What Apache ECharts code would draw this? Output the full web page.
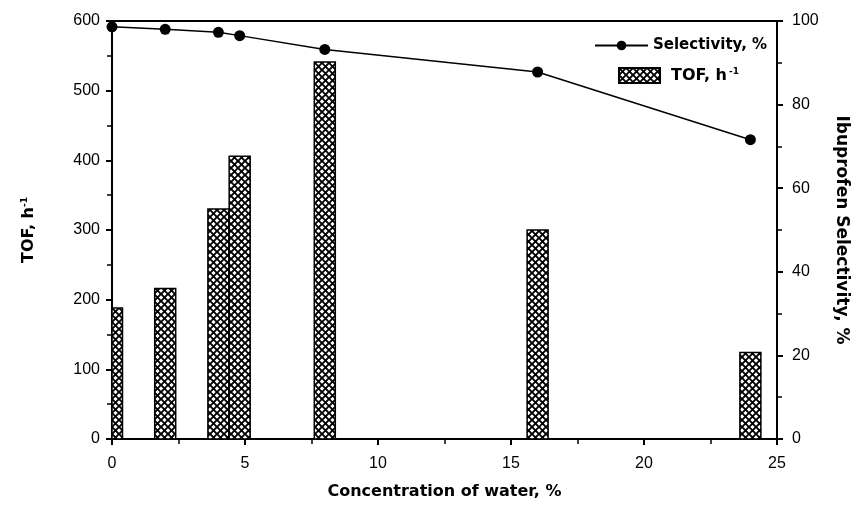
<!DOCTYPE html>
<html>
<head>
<meta charset="utf-8">
<script src="https://cdn.jsdelivr.net/npm/echarts@6/dist/echarts.min.js"></script>
<style>html,body{margin:0;padding:0;background:#fff}#c{width:864px;height:505px}</style>
</head>
<body>
<div id="c"></div>
<script>
var water = [0, 2, 4, 4.8, 8, 16, 24];
var tof = [188, 216, 330, 406, 541, 300, 124];
var selectivity = [98.6, 98.0, 97.3, 96.5, 93.2, 87.8, 71.6];
var xTicks = [0, 5, 10, 15, 20, 25];

var pc = document.createElement('canvas');
pc.width = 7; pc.height = 7;
var g = pc.getContext('2d');
g.fillStyle = '#fff'; g.fillRect(0, 0, 7, 7);
g.strokeStyle = '#000'; g.lineWidth = 1.9;
g.beginPath();
g.moveTo(-1, -1); g.lineTo(8, 8);
g.moveTo(8, -1); g.lineTo(-1, 8);
g.stroke();
var hatch = {image: pc, repeat: 'repeat'};

var FONT = 'DejaVu Sans';
var TICKFONT = 'Liberation Sans';

var chart = echarts.init(document.getElementById('c'), null, {renderer: 'canvas'});
chart.setOption({
  animation: false,
  backgroundColor: '#fff',
  grid: {left: 112, right: 87, top: 21, bottom: 63, show: true, borderColor: '#000', borderWidth: 2, backgroundColor: 'transparent'},
  legend: [{
    data: ['Selectivity, %'],
    left: 589, top: 33, itemWidth: 53, itemHeight: 12, itemGap: 4,
    textStyle: {fontFamily: FONT, fontWeight: 'bold', fontSize: 15, color: '#000'}
  }, {
    data: [{name: 'TOF, h-1', icon: 'rect'}],
    left: 613, top: 62, itemWidth: 41, itemHeight: 15,
    formatter: function () { return '{a|TOF, h}{s|-1}'; },
    textStyle: {fontFamily: FONT, fontWeight: 'bold', fontSize: 15, color: '#000',
      rich: {a: {fontFamily: FONT, fontWeight: 'bold', fontSize: 16, color: '#000', padding: [0, 0, 0, 6]},
             s: {fontFamily: FONT, fontWeight: 'bold', fontSize: 9, color: '#000', verticalAlign: 'top', padding: [0, 0, 8, 2]}}}
  }],
  xAxis: {
    type: 'value', min: 0, max: 25, interval: 5,
    name: 'Concentration of water, %', nameLocation: 'middle', nameGap: 45,
    nameTextStyle: {fontFamily: FONT, fontWeight: 'bold', fontSize: 16, color: '#000'},
    axisLine: {show: true, lineStyle: {color: '#000', width: 2}},
    axisTick: {show: true, length: 6, lineStyle: {color: '#000', width: 2}},
    minorTick: {show: true, splitNumber: 2, length: 5, lineStyle: {color: '#000', width: 1.5}},
    splitLine: {show: false},
    axisLabel: {margin: 17, fontFamily: TICKFONT, fontSize: 16, color: '#000',
      formatter: function (v) { return xTicks.indexOf(v) >= 0 ? String(v) : ''; }}
  },
  yAxis: [{
    type: 'value', min: 0, max: 600, interval: 100, position: 'left',
    name: '{a|TOF, h}{s|-1}', nameLocation: 'middle', nameGap: 75, nameRotate: 90,
    nameTextStyle: {fontFamily: FONT, fontWeight: 'bold', fontSize: 16, color: '#000',
      rich: {a: {fontFamily: FONT, fontWeight: 'bold', fontSize: 16, color: '#000'},
             s: {fontFamily: FONT, fontWeight: 'bold', fontSize: 9, color: '#000', verticalAlign: 'top', padding: [0, 0, 8, 0]}}},
    axisLine: {show: true, lineStyle: {color: '#000', width: 2}},
    axisTick: {show: true, length: 6, lineStyle: {color: '#000', width: 2}},
    minorTick: {show: true, splitNumber: 2, length: 5, lineStyle: {color: '#000', width: 1.5}},
    splitLine: {show: false},
    axisLabel: {margin: 12, fontFamily: TICKFONT, fontSize: 16, color: '#000'}
  }, {
    type: 'value', min: 0, max: 100, interval: 20, position: 'right',
    name: 'Ibuprofen Selectivity, %', nameLocation: 'middle', nameGap: 56, nameRotate: -90,
    nameTextStyle: {fontFamily: FONT, fontWeight: 'bold', fontSize: 17, color: '#000'},
    axisLine: {show: true, lineStyle: {color: '#000', width: 2}},
    axisTick: {show: true, length: 6, lineStyle: {color: '#000', width: 2}},
    minorTick: {show: true, splitNumber: 2, length: 5, lineStyle: {color: '#000', width: 1.5}},
    splitLine: {show: false},
    axisLabel: {margin: 15, fontFamily: TICKFONT, fontSize: 16, color: '#000'}
  }],
  series: [{
    name: 'TOF, h-1', type: 'custom', yAxisIndex: 0,
    data: water.map(function (w, i) { return [w, tof[i]]; }),
    itemStyle: {color: hatch, borderColor: '#000', borderWidth: 1.5},
    renderItem: function (params, api) {
      var top = api.coord([api.value(0), api.value(1)]);
      var base = api.coord([api.value(0), 0]);
      var w = 21;
      var cs = params.coordSys;
      var rect = echarts.graphic.clipRectByRect(
        {x: top[0] - w / 2, y: top[1], width: w, height: base[1] - top[1]},
        {x: cs.x, y: cs.y, width: cs.width, height: cs.height});
      if (!rect) return null;
      return {type: 'rect', shape: rect, style: {fill: hatch, stroke: '#000', lineWidth: 1.5}};
    }
  }, {
    name: 'Selectivity, %', type: 'line', yAxisIndex: 1, clip: false,
    data: water.map(function (w, i) { return [w, selectivity[i]]; }),
    symbol: 'circle', symbolSize: 11,
    lineStyle: {color: '#000', width: 1.5},
    itemStyle: {color: '#000'}, z: 5
  }]
});
</script>
</body>
</html>
